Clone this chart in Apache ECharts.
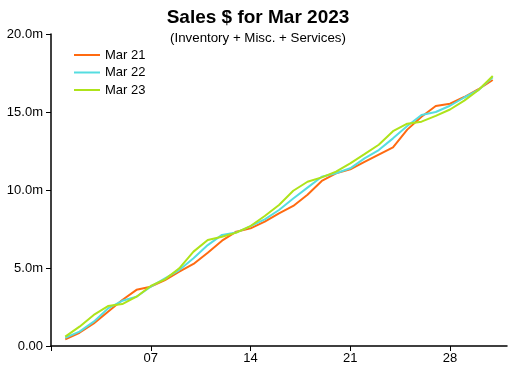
<!DOCTYPE html>
<html>
<head>
<meta charset="utf-8">
<script src="https://cdn.jsdelivr.net/npm/echarts@6/dist/echarts.min.js"></script>
<style>
html,body{margin:0;padding:0;background:#fff;}
#chart{width:516px;height:372px;}
</style>
</head>
<body>
<div id="chart"></div>
<script>
// Days of the month (x) and cumulative sales in millions (y)
var days = [1,2,3,4,5,6,7,8,9,10,11,12,13,14,15,16,17,18,19,20,21,22,23,24,25,26,27,28,29,30,31];
var seriesNames = ['Mar 21', 'Mar 22', 'Mar 23'];
var mar21 = [0.43,0.85,1.45,2.2,2.95,3.6,3.8,4.23,4.76,5.26,5.98,6.75,7.33,7.54,7.97,8.5,8.98,9.7,10.58,11.07,11.32,11.8,12.27,12.73,13.87,14.7,15.38,15.53,15.96,16.46,17.05];
var mar22 = [0.53,0.92,1.56,2.41,2.9,3.16,3.8,4.34,4.87,5.62,6.47,7.12,7.27,7.69,8.12,8.72,9.45,10.15,10.85,11.07,11.39,12.03,12.56,13.31,14.1,14.81,15.0,15.4,15.93,16.41,17.22];
var mar23 = [0.6,1.24,1.99,2.56,2.69,3.16,3.85,4.27,4.98,6.05,6.8,7.0,7.27,7.69,8.33,9.04,9.95,10.53,10.81,11.18,11.71,12.3,12.9,13.77,14.25,14.38,14.75,15.16,15.73,16.41,17.31];
var xTickLabels = ['07', '14', '21', '28'];
var yMin = 0, yMax = 20, yStep = 5;

function pad(n){ return (n < 10 ? '0' : '') + n; }
var axisCats = [];
for (var i = 0; i <= 32; i++) axisCats.push(pad(i));
function toPairs(vals){ return vals.map(function(v, i){ return [pad(days[i]), v]; }); }

var colors = ['#FF6A10', '#55DDE0', '#AEE31A'];
var chart = echarts.init(document.getElementById('chart'));
chart.setOption({
  animation: false,
  color: colors,
  title: {
    text: 'Sales $ for Mar 2023',
    subtext: '(Inventory + Misc. + Services)',
    left: 'center',
    top: 3,
    itemGap: 5,
    textStyle: { fontFamily: 'Liberation Sans', fontSize: 19, fontWeight: 'bold', color: '#000' },
    subtextStyle: { fontFamily: 'Liberation Sans', fontSize: 13.3, color: '#000' }
  },
  legend: {
    orient: 'vertical',
    left: 74,
    top: 48.5,
    padding: 0,
    itemWidth: 26,
    itemHeight: 2,
    itemGap: 4.5,
    icon: 'rect',
    textStyle: { fontFamily: 'Liberation Sans', fontSize: 13, color: '#000' },
    data: seriesNames
  },
  grid: { left: 51, right: 9, top: 34, bottom: 26, containLabel: false },
  xAxis: {
    type: 'category',
    data: axisCats,
    boundaryGap: false,
    axisLine: { lineStyle: { color: '#000', width: 1.5 } },
    axisTick: { length: 5, lineStyle: { color: '#000' }, interval: function(i){ return i % 7 === 0 && i < 32; } },
    axisLabel: {
      fontFamily: 'Liberation Sans', fontSize: 13, color: '#000', margin: 6,
      interval: function(i, v){ return xTickLabels.indexOf(v) >= 0; }
    },
    splitLine: { show: false }
  },
  yAxis: {
    type: 'value',
    min: yMin, max: yMax, interval: yStep,
    axisLine: { show: true, lineStyle: { color: '#000', width: 1.5 } },
    axisTick: { show: true, length: 5, lineStyle: { color: '#000' } },
    axisLabel: {
      fontFamily: 'Liberation Sans', fontSize: 13, color: '#000', margin: 8,
      formatter: function(v){ return v === 0 ? '0.00' : v.toFixed(1) + 'm'; }
    },
    splitLine: { show: false }
  },
  series: [
    { name: seriesNames[0], type: 'line', data: toPairs(mar21), showSymbol: false, lineStyle: { width: 2 } },
    { name: seriesNames[1], type: 'line', data: toPairs(mar22), showSymbol: false, lineStyle: { width: 2 } },
    { name: seriesNames[2], type: 'line', data: toPairs(mar23), showSymbol: false, lineStyle: { width: 2 } }
  ]
});
</script>
</body>
</html>
